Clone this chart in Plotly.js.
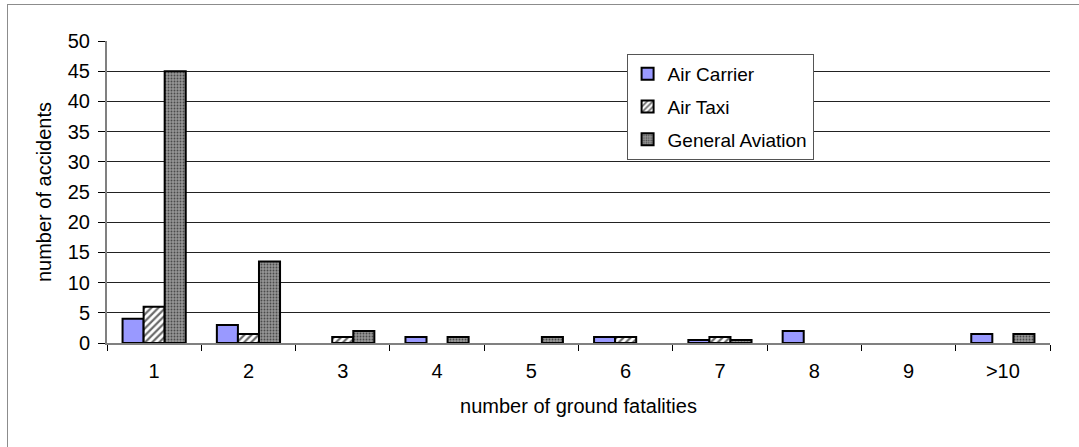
<!DOCTYPE html>
<html>
<head>
<meta charset="utf-8">
<script src="https://cdn.plot.ly/plotly-3.0.1.min.js"></script>
<style>
  html, body { margin: 0; padding: 0; background: #fff; }
  #wrap { position: relative; width: 1079px; height: 447px; overflow: hidden; }
  #chart { position: absolute; left: 0; top: 0; width: 1079px; height: 447px; }
  #frame { position: absolute; left: 7px; top: 4px; width: 1100px; height: 500px;
           border: 1px solid #8c8c8c; pointer-events: none; box-sizing: border-box; }
</style>
</head>
<body>
<div id="wrap">
  <div id="chart"></div>
  <div id="frame"></div>
</div>
<script>
const categories = ["1", "2", "3", "4", "5", "6", "7", "8", "9", ">10"];
const airCarrier = [4, 3, 0, 1, 0, 1, 0.5, 2, 0, 1.5];
const airTaxi = [6, 1.5, 1, 0, 0, 1, 1, 0, 0, 0];
const generalAviation = [45, 13.5, 2, 1, 1, 0, 0.5, 0, 0, 1.5];
const seriesNames = ["Air Carrier", "Air Taxi", "General Aviation"];

// zero-height bars are not drawn in the original
const shown = arr => arr.map(v => (v === 0 ? null : v));

const font = { family: "Liberation Sans, Arial, sans-serif", size: 20, color: "#000" };

const traces = [
  {
    type: "bar", name: seriesNames[0], legendgroup: "a", x: categories, y: shown(airCarrier),
    marker: { color: "#9999ff", line: { color: "#000", width: 2 } }
  },
  {
    type: "bar", name: seriesNames[1], legendgroup: "b", x: categories, y: shown(airTaxi),
    marker: {
      color: "#ffffff",
      pattern: { shape: "/", bgcolor: "#ffffff", fgcolor: "#6a6a6a", size: 5, solidity: 0.45, fillmode: "replace" },
      line: { color: "#000", width: 2 }
    }
  },
  {
    type: "bar", name: seriesNames[2], legendgroup: "c", x: categories, y: shown(generalAviation),
    marker: {
      color: "#808080",
      pattern: { shape: ".", bgcolor: "#959595", fgcolor: "#4a4a4a", size: 3, solidity: 0.3, fillmode: "replace" },
      line: { color: "#000", width: 2 }
    }
  }
];

const layout = {
  width: 1079, height: 447,
  margin: { l: 107, r: 29, t: 41, b: 104, pad: 0 },
  paper_bgcolor: "#fff", plot_bgcolor: "#fff",
  font: font,
  barmode: "group",
  bargap: 0.33,
  bargroupgap: 0,
  showlegend: true,
  legend: {
    x: 0.551, y: 0.957, xanchor: "left", yanchor: "top",
    bgcolor: "#fff", bordercolor: "#555", borderwidth: 1,
    font: { family: font.family, size: 19, color: "#000" },
    traceorder: "grouped",
    tracegroupgap: 5,
    itemwidth: 30
  },
  xaxis: {
    type: "category",
    tickson: "boundaries",
    ticks: "outside", ticklen: 6, tickcolor: "#000", tickwidth: 1,
    ticklabelstandoff: 9,
    showline: true, linecolor: "#808080", linewidth: 2,
    showgrid: false, zeroline: false,
    tickfont: font,
    title: { text: "number of ground fatalities", font: font, standoff: 18 }
  },
  yaxis: {
    range: [0, 50], dtick: 5, tick0: 0,
    ticks: "outside", ticklen: 7, tickcolor: "#000", tickwidth: 1,
    ticklabelstandoff: 4,
    showline: true, linecolor: "#808080", linewidth: 2,
    showgrid: true, gridcolor: "#222", gridwidth: 1,
    zeroline: false,
    tickfont: font,
    title: { text: "number of accidents", font: font, standoff: 11 }
  }
};

Plotly.newPlot("chart", traces, layout, { displayModeBar: false, staticPlot: true });
</script>
</body>
</html>
